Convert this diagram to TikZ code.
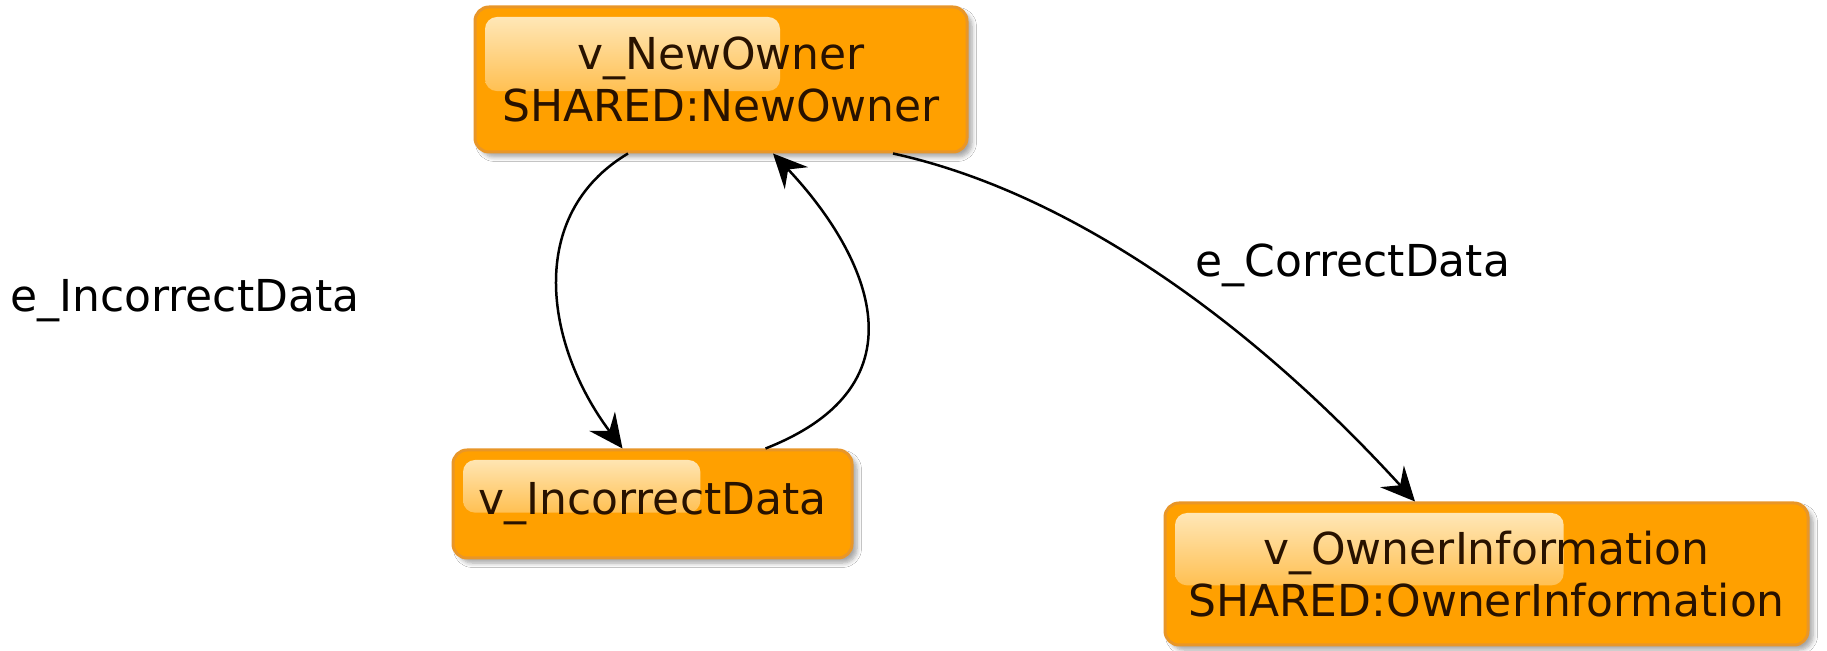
\documentclass[tikz,border=0pt]{standalone}
\usepackage{fontspec}
\setmainfont{DejaVu Sans}
\usetikzlibrary{arrows.meta,shadows.blur,calc}
\definecolor{boxfill}{RGB}{255,160,0}
\definecolor{boxedge}{RGB}{232,150,40}
\definecolor{glossc}{RGB}{255,236,196}
\definecolor{boxtext}{RGB}{40,18,0}
\tikzset{
  vbox/.style={draw=boxedge, line width=1.5pt, fill=boxfill, rounded corners=7pt,
    inner sep=0pt, align=center, text=boxtext, font=\fontsize{22}{26}\selectfont,
    blur shadow={shadow xshift=2.5pt, shadow yshift=-2.5pt, shadow blur steps=6, shadow opacity=35},
    path picture={
      \shade[top color=glossc, bottom color=boxfill, rounded corners=6pt]
        let \p1=(path picture bounding box.north west),
            \p2=(path picture bounding box.south east) in
        (\x1+5pt,\y1-5pt) rectangle ({\x1+0.62*(\x2-\x1)},{\y1-0.58*(\y1-\y2)});
    }},
  edge/.style={draw=black, line width=1.25pt, -{Stealth[length=17pt,width=16pt,inset=6pt]}},
  elabel/.style={inner sep=0pt, font=\fontsize{22}{26}\selectfont, text=black}
}
\begin{document}
\begin{tikzpicture}[x=0.5pt,y=-0.5pt]
\useasboundingbox (0,0) rectangle (1827,651);
\fill[white] (0,0) rectangle (1827,651);

\node[vbox, minimum width=246pt, minimum height=72.5pt] (no) at (721,79.5) {v\_NewOwner\\SHARED:NewOwner};
\node[vbox, minimum width=199.5pt, minimum height=54pt] (ic) at (652.5,504) {v\_IncorrectData};
\node[vbox, minimum width=321.5pt, minimum height=71pt] (oi) at (1486.5,574) {v\_OwnerInformation\\SHARED:OwnerInformation};

\draw[edge] ([xshift=-46.5pt]no.south) .. controls (525,215) and (545,345) .. ([xshift=-15pt]ic.north);
\draw[edge] ([xshift=56.5pt]ic.north) .. controls (940,380) and (855,240) .. ([xshift=26pt]no.south);
\draw[edge] ([xshift=86pt]no.south) .. controls (1060,190) and (1240,310) .. ([xshift=-35.75pt]oi.north);

\node[elabel, anchor=base west] (l1) at (10,312) {e\_IncorrectData};
\node[elabel, anchor=base west] (l2) at (1195,277) {e\_CorrectData};
\end{tikzpicture}
\end{document}
